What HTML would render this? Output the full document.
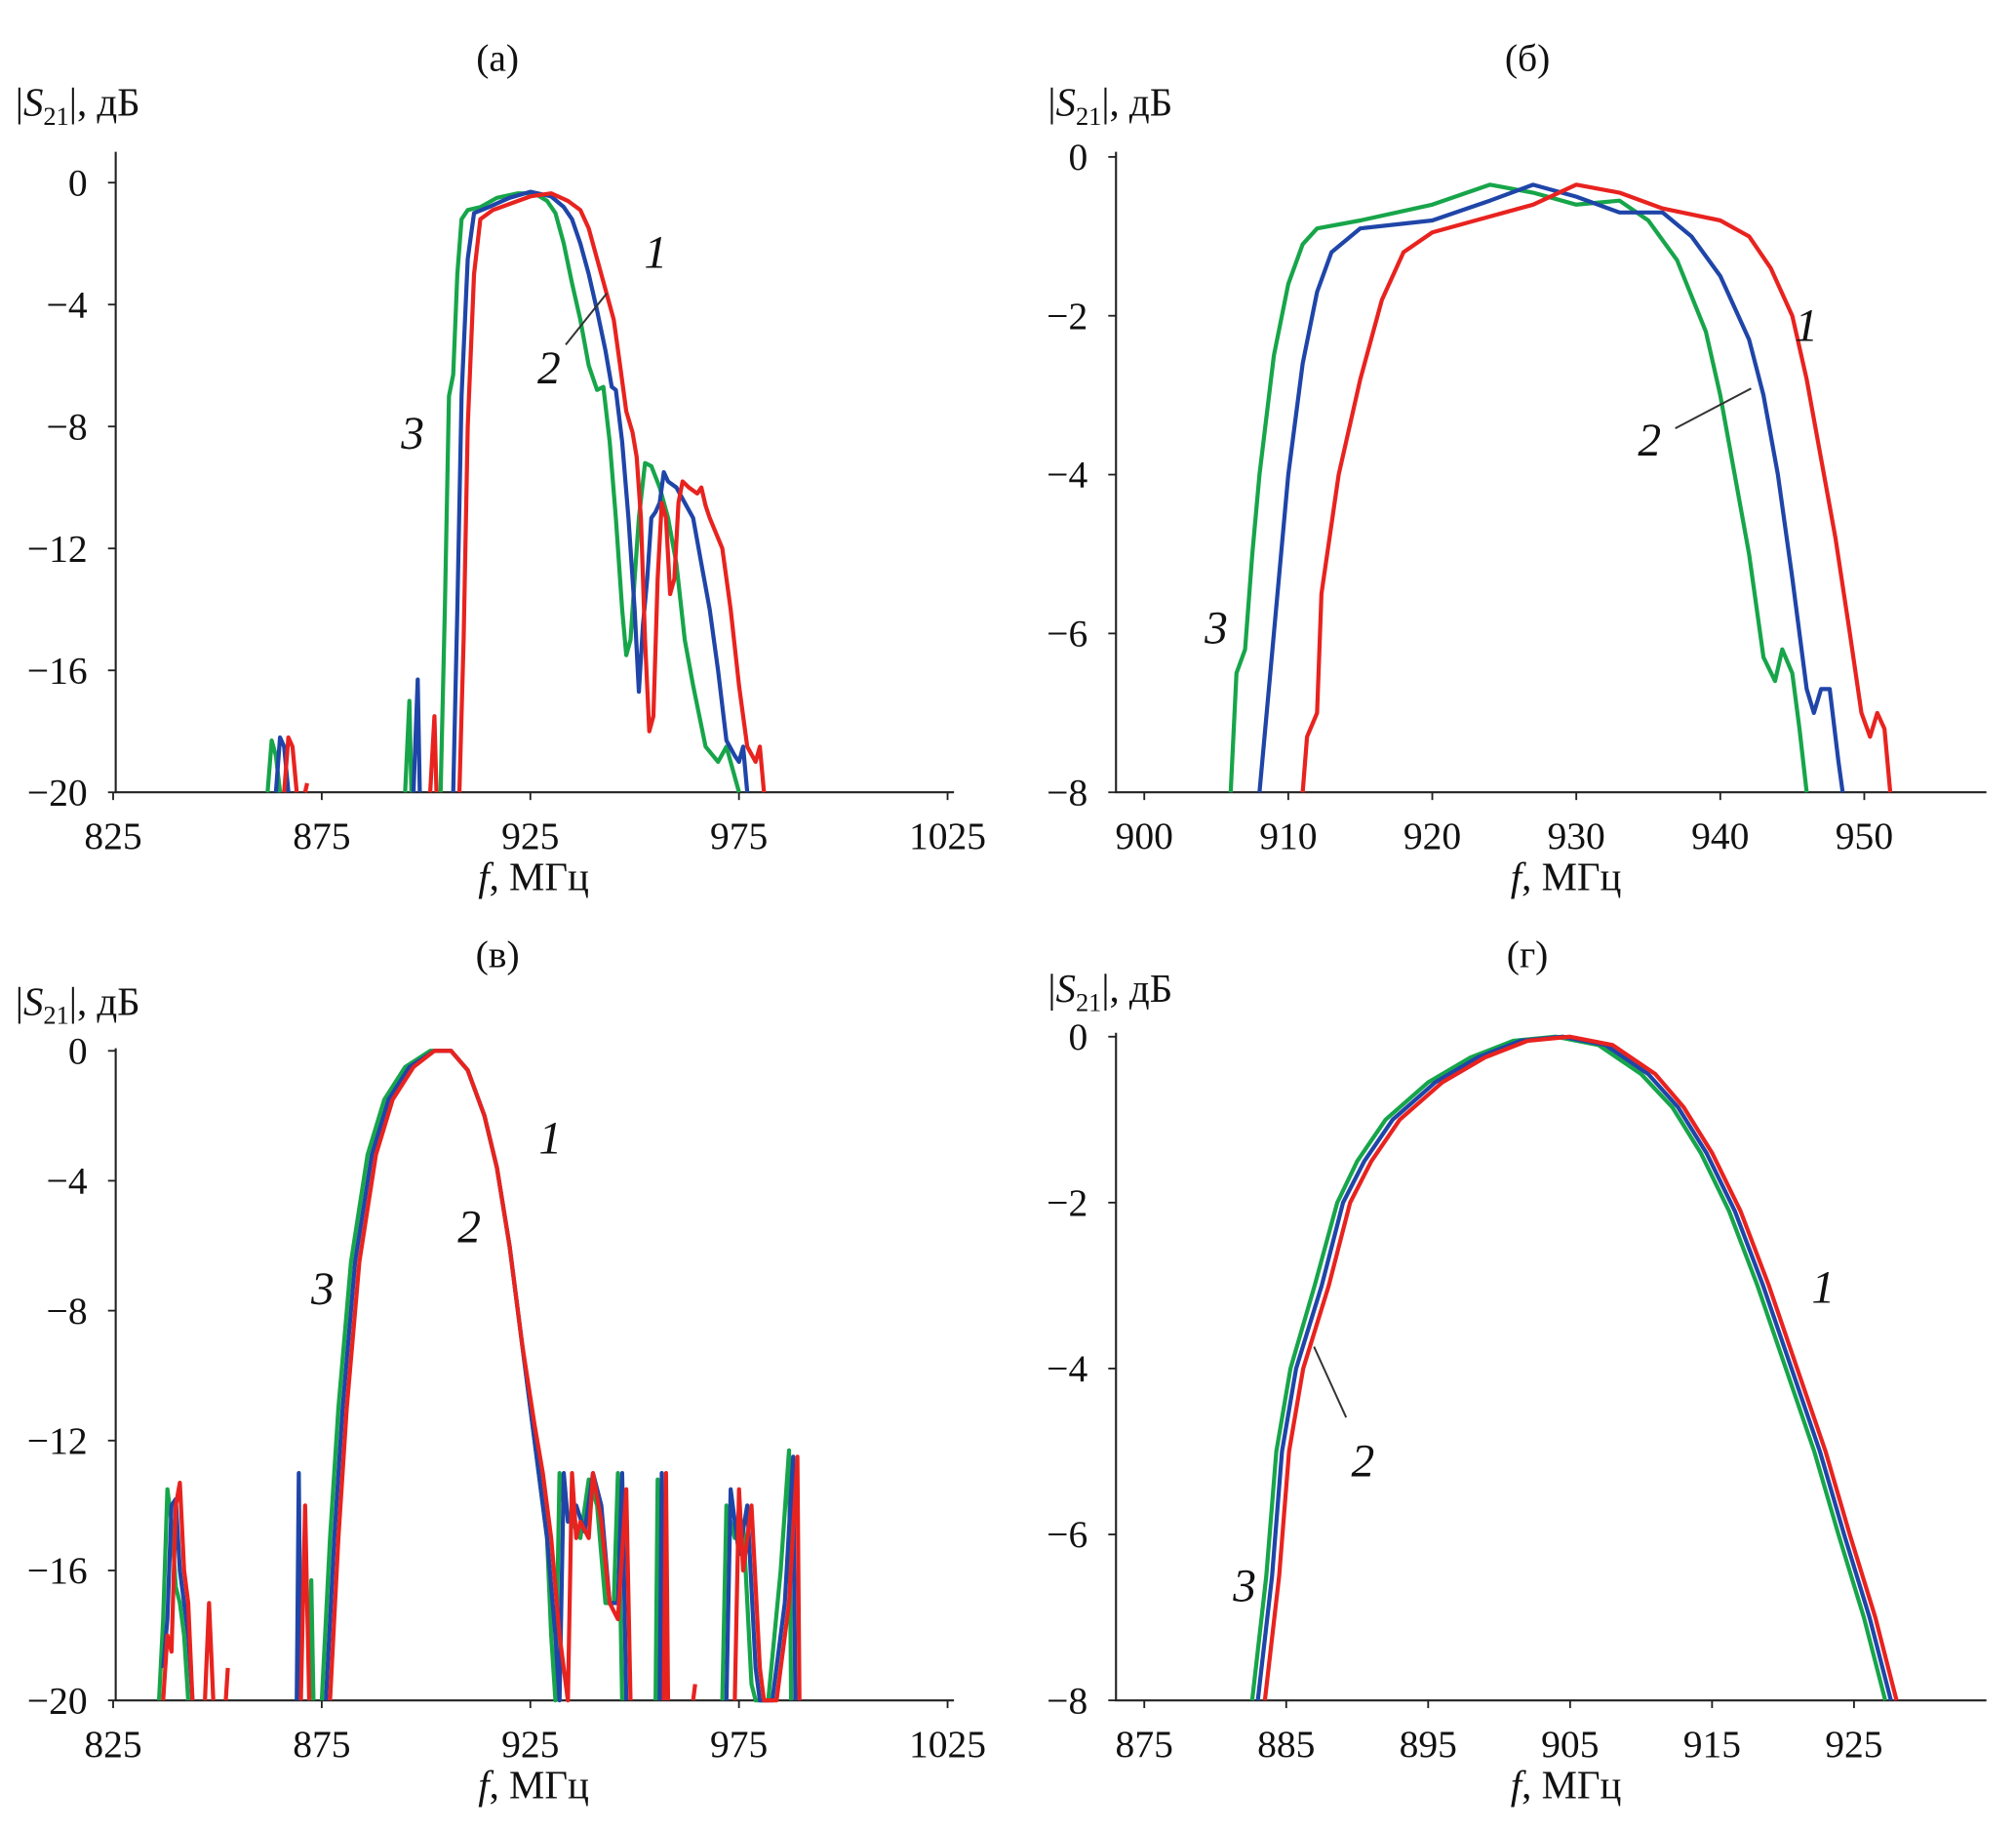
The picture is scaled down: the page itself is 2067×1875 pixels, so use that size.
<!DOCTYPE html>
<html><head><meta charset="utf-8">
<style>
html,body{margin:0;padding:0;background:#fff;}
svg{display:block;}
text{font-family:"Liberation Serif",serif;fill:#111;}
</style></head>
<body>
<svg id="chart" width="2067" height="1875" viewBox="0 0 1568 1422" preserveAspectRatio="none" xmlns="http://www.w3.org/2000/svg"></svg>
<script>
// ---- data (frequency MHz, |S21| dB); null breaks a line ----
const aRed=[[866,-20],[867,-18.2],[868,-18.5],[869,-20],null,[871,-20],[871.5,-19.7],null,[901,-20],[902,-17.5],[902.5,-20],null,[908,-20],[909,-15],[910,-8],[911.5,-3],[913,-1.2],[916,-0.9],[920,-0.7],[925,-0.45],[930,-0.35],[934,-0.6],[937,-0.9],[939,-1.5],[941,-2.5],[943,-3.5],[945,-4.5],[946.5,-6],[948,-7.5],[949.5,-8.2],[950.5,-9],[951.5,-11],[952.5,-15],[953.5,-18],[954.5,-17.5],[955.5,-13],[956.5,-10.5],[957.5,-11],[958.5,-13.5],[959.5,-13],[960.5,-10.5],[961.5,-9.8],[963,-10],[965,-10.2],[966,-10],[967,-10.6],[968,-11],[971,-12],[973,-14],[975,-16.5],[977,-18.5],[979,-19],[980,-18.5],[981,-20]];
const aBlue=[[864,-20],[865,-18.2],[866,-18.5],[867,-20],null,[897,-20],[898,-16.3],[898.5,-20],null,[906.5,-20],[907.5,-14],[908.5,-7],[910,-2.5],[911.5,-1],[915,-0.8],[920,-0.5],[925,-0.3],[930,-0.45],[933,-0.8],[935,-1.2],[937,-2],[939,-3],[941,-4.2],[943,-5.5],[944.5,-6.7],[945.5,-6.8],[947,-8.5],[948.5,-11],[950,-14],[951,-16.7],[952,-14.5],[953,-13],[954,-11],[955,-10.8],[956,-10.5],[957,-9.5],[958,-9.8],[960,-10],[962,-10.5],[964,-11],[966,-12.5],[968,-14],[970,-16],[972,-18.3],[974,-18.8],[975,-19],[976,-18.5],[977,-20]];
const aGreen=[[862,-20],[863,-18.3],[864,-18.8],[865,-20],null,[895,-20],[896,-17],[896.5,-20],null,[903.5,-20],[904.5,-14],[905.5,-7],[906.5,-6.3],[907.5,-3],[908.5,-1.2],[910,-0.9],[913,-0.8],[917,-0.5],[922,-0.35],[926,-0.35],[929,-0.6],[931,-1],[933,-2],[935,-3.3],[937,-4.5],[939,-6],[941,-6.8],[942.5,-6.7],[944,-8.5],[945.5,-11],[947,-14],[948,-15.5],[949,-15],[950,-13],[951,-11],[952.5,-9.2],[954,-9.3],[956,-10],[958,-11],[960,-12.5],[962,-15],[964,-16.5],[967,-18.5],[970,-19],[972,-18.5],[975,-20]];

const bRed=[[911,-8],[911.3,-7.3],[912,-7],[912.3,-5.5],[913.5,-4],[915,-2.8],[916.5,-1.8],[918,-1.2],[920,-0.95],[923,-0.8],[927,-0.6],[930,-0.35],[933,-0.45],[936,-0.65],[940,-0.8],[942,-1],[943.5,-1.4],[945,-2],[946,-2.8],[947,-3.8],[948,-4.8],[949,-6],[949.8,-7],[950.4,-7.3],[950.9,-7],[951.4,-7.2],[951.8,-8]];
const bBlue=[[908,-8],[908.5,-7],[909,-6],[910,-4],[911,-2.6],[912,-1.7],[913,-1.2],[915,-0.9],[920,-0.8],[924,-0.55],[927,-0.35],[930,-0.5],[933,-0.7],[936,-0.7],[938,-1],[940,-1.5],[942,-2.3],[943,-3],[944,-4],[945,-5.3],[946,-6.7],[946.5,-7],[947,-6.7],[947.6,-6.7],[948.2,-7.6],[948.5,-8]];
const bGreen=[[906,-8],[906.4,-6.5],[907,-6.2],[907.5,-5],[908,-4],[909,-2.5],[910,-1.6],[911,-1.1],[912,-0.9],[915,-0.8],[920,-0.6],[924,-0.35],[927,-0.45],[930,-0.6],[933,-0.55],[935,-0.8],[937,-1.3],[939,-2.2],[940,-3],[941,-4],[942,-5],[943,-6.3],[943.8,-6.6],[944.3,-6.2],[945,-6.5],[945.5,-7.2],[946,-8]];

const cRed=[[837,-20],[838,-18],[839,-18.5],[840,-14],[841,-13.3],[842,-16],[843,-17],[844,-20],null,[847,-20],[848,-17],[849,-20],null,[852,-20],[852.5,-19],null,[870,-20],[871,-14],[872,-20],null,[877,-20],[879,-15],[881,-11],[884,-6.5],[888,-3.2],[892,-1.5],[897,-0.5],[902,0],[906,0],[910,-0.6],[914,-2],[917,-3.6],[920,-6],[923,-9],[926,-11.5],[928,-13],[930,-15],[932,-18],[934,-20],[935,-13],[936,-15],[937,-14.5],[939,-15],[940,-13],[942,-14.5],[944,-17],[946,-17.5],[948,-13.5],[949,-20],null,[957,-20],[957.5,-13],[958,-20],null,[964,-20],[964.5,-19.5],null,[974,-20],[975,-13.5],[976,-16],[978,-14],[980,-19],[981,-20],[984,-20],[987,-17],[989,-12.5],[989.5,-20]];
const cBlue=[[837,-19],[838,-17.5],[839,-14],[840,-13.8],[841,-16],[842,-17],[843,-18],[844,-20],null,[869,-20],[869.5,-13],[870,-20],null,[876,-20],[878,-15],[880,-11],[883,-6.5],[887,-3.2],[891,-1.5],[896,-0.5],[902,0],[906,0],[910,-0.6],[914,-2],[917,-3.6],[920,-6],[923,-9],[925,-11],[927,-13],[929,-15],[931,-18],[932,-20],[933,-13],[934,-14.5],[936,-14],[938,-14.8],[940,-13],[942,-14],[944,-17],[946,-17],[947,-13],[948,-20],null,[956,-20],[956.5,-13],[957,-20],null,[972,-20],[973,-13.5],[975,-15.5],[977,-14],[979,-19],[980,-20],[983,-20],[986,-17],[988,-12.5],[988.5,-20]];
const cGreen=[[836,-20],[837,-17.5],[838,-13.5],[839,-14.5],[840,-16.5],[841,-17],[842,-18],[843,-20],null,[872,-20],[872.5,-16.3],[873,-20],null,[875,-20],[877,-15],[879,-11],[882,-6.5],[886,-3.2],[890,-1.5],[895,-0.5],[901,0],[906,0],[910,-0.6],[914,-2],[917,-3.6],[920,-6],[923,-9],[925,-11],[927,-13],[929,-15],[930,-18],[931,-20],[932,-13],[933,-14],[935,-14.5],[937,-15],[939,-13.2],[941,-14],[943,-17],[945,-17],[946,-13],[947,-20],null,[955,-20],[955.5,-13.2],[956,-20],null,[971,-20],[972,-14],[974,-15],[976,-14.5],[978,-19.5],[979,-20],[982,-20],[985,-16],[987,-12.3],[987.5,-20]];

const dRed=[[883.5,-8],[884.5,-6.5],[885.2,-5],[886.2,-4],[888,-3],[889.5,-2],[891,-1.5],[893,-1],[896,-0.55],[899,-0.25],[902,-0.05],[905,0],[908,-0.1],[911,-0.45],[913,-0.85],[915,-1.4],[917,-2.1],[919,-3],[921,-4],[923,-5],[924.7,-6],[926.5,-7],[928,-8]];
const dBlue=[[883,-8],[884,-6.5],[884.7,-5],[885.7,-4],[887.5,-3],[889,-2],[890.5,-1.5],[892.5,-1],[895.5,-0.55],[898.5,-0.25],[901.5,-0.05],[904.5,0],[907.5,-0.1],[910.5,-0.45],[912.6,-0.85],[914.6,-1.4],[916.6,-2.1],[918.6,-3],[920.6,-4],[922.6,-5],[924.3,-6],[926.1,-7],[927.6,-8]];
const dGreen=[[882.6,-8],[883.6,-6.5],[884.3,-5],[885.3,-4],[887,-3],[888.6,-2],[890,-1.5],[892,-1],[895,-0.55],[898,-0.25],[901,-0.05],[904,0],[907,-0.1],[910,-0.45],[912.2,-0.85],[914.2,-1.4],[916.2,-2.1],[918.2,-3],[920.2,-4],[922.2,-5],[923.9,-6],[925.7,-7],[927.2,-8]];

const aTicksX=[825,875,925,975,1025], aTicksY=[0,-4,-8,-12,-16,-20];
const bTicksX=[900,910,920,930,940,950], bTicksY=[0,-2,-4,-6,-8];
const dTicksX=[875,885,895,905,915,925];

const NS="http://www.w3.org/2000/svg";
const svg=document.getElementById('chart');
function el(tag,attrs,parent){const e=document.createElementNS(NS,tag);for(const k in attrs)e.setAttribute(k,attrs[k]);(parent||svg).appendChild(e);return e;}

const panels=[
 {id:'a',title:'(а)',tx:387,ty:55,x0:825,x1:1025,px0:88,px1:737,y0:0,y1:-20,py0:142,py1:616,axTop:118,axRight:742,yl:{x:12,y:90},xt:aTicksX,yt:aTicksY,series:[aRed,aBlue,aGreen],
  labels:[['1',510,208],['2',427,298],['3',321,349]],leader:[[440,268],[472,228]]},
 {id:'b',title:'(б)',tx:1188,ty:55,x0:900,x1:950,px0:890,px1:1450,y0:0,y1:-8,py0:122,py1:616,axTop:118,axRight:1545,yl:{x:815,y:90},xt:bTicksX,yt:bTicksY,series:[bRed,bBlue,bGreen],
  labels:[['1',1405,265],['2',1283,354],['3',946,500]],leader:[[1303,333],[1362,302]]},
 {id:'c',title:'(в)',tx:387,ty:752,x0:825,x1:1025,px0:88,px1:737,y0:0,y1:-20,py0:817,py1:1322,axTop:815,axRight:742,yl:{x:12,y:789},xt:aTicksX,yt:aTicksY,series:[cRed,cBlue,cGreen],
  labels:[['1',428,897],['2',365,966],['3',251,1014]],leader:null},
 {id:'d',title:'(г)',tx:1188,ty:752,x0:875,x1:925,px0:890,px1:1442,y0:0,y1:-8,py0:806,py1:1322,axTop:803,axRight:1545,yl:{x:815,y:779},xt:dTicksX,yt:bTicksY,series:[dRed,dBlue,dGreen],
  labels:[['1',1418,1013],['2',1060,1148],['3',968,1245]],leader:[[1047,1102],[1022,1047]]}
];
const colors=['#e8231f','#1f45a8','#17a54a'];
const names=['series-1-red','series-2-blue','series-3-green'];

panels.forEach(p=>{
  const g=el('g',{});
  
  
  const sx=v=>p.px0+(v-p.x0)*(p.px1-p.px0)/(p.x1-p.x0);
  const sy=v=>p.py0+(v-p.y0)*(p.py1-p.py0)/(p.y1-p.y0);
  const t=el('text',{x:p.tx,y:p.ty,'font-size':30,'text-anchor':'middle'},g);t.textContent=p.title;
  
  
  const yl=el('text',{x:p.yl.x,y:p.yl.y,'font-size':31},g);
  
  
  yl.innerHTML='|<tspan font-style="italic">S</tspan><tspan font-size="20" dy="7">21</tspan><tspan dy="-7">|, дБ</tspan>';
  const axisX=p.px0+ (p.id==='a'||p.id==='c'?2:-22);
  const ax=el('path',{d:`M${axisX} ${p.axTop}V${p.py1}H${p.axRight}`,stroke:'#222','stroke-width':1.6,fill:'none'},g);
  
  
  p.xt.forEach(v=>{
    el('line',{x1:sx(v),x2:sx(v),y1:p.py1,y2:p.py1+6,stroke:'#222','stroke-width':1.4},g);
    const tx=el('text',{x:sx(v),y:p.py1+44,'font-size':30,'text-anchor':'middle'},g);tx.textContent=v;
    
    
  });
  p.yt.forEach(v=>{
    el('line',{x1:axisX-6,x2:axisX,y1:sy(v),y2:sy(v),stroke:'#222','stroke-width':1.4},g);
    const ty=el('text',{x:axisX-22,y:sy(v)+10,'font-size':30,'text-anchor':'end'},g);ty.textContent=v===0?'0':'\u2212'+Math.abs(v);
    
    
  });
  const xl=el('text',{x:(p.id==='a'||p.id==='c')?415:1218,y:p.py1+76,'font-size':31,'text-anchor':'middle'},g);
  xl.innerHTML='<tspan font-style="italic">f</tspan>, МГц';
  
  
  [2,1,0].forEach(i=>{
    const pts=p.series[i];let d='',pen=false;
    pts.forEach(pt=>{ if(!pt){pen=false;return;} d+=(pen?'L':'M')+sx(pt[0]).toFixed(1)+' '+sy(pt[1]).toFixed(1);pen=true;});
    const path=el('path',{d:d,stroke:colors[i],'stroke-width':3.2,fill:'none','stroke-linejoin':'round'},g);
    
    
  });
  p.labels.forEach(l=>{
    const lt=el('text',{x:l[1],y:l[2],'font-size':36,'font-style':'italic','text-anchor':'middle'},g);lt.textContent=l[0];
    
    
  });
  if(p.leader){
    const ld=el('line',{x1:p.leader[0][0],y1:p.leader[0][1],x2:p.leader[1][0],y2:p.leader[1][1],stroke:'#333','stroke-width':1.5},g);
    
    
  }
});
</script>
</body></html>
